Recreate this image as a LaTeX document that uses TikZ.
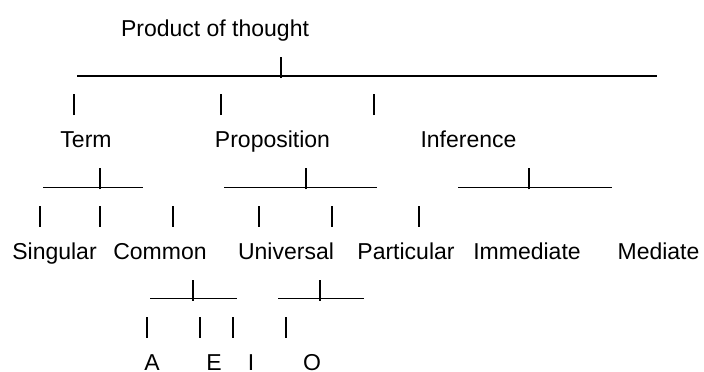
\documentclass[tikz,border=0pt]{standalone}
\usepackage{fontspec}
\setmainfont{Liberation Sans}
% baseline of text row #1 (rows are 37.1 apart)
\newcommand\rowy[1]{36.5+37.1*#1}
% a '|' standing on row #2 at x = #1
\newcommand\pipeat[2]{\draw[bar] (#1,{\rowy{#2}+4.5}) -- (#1,{\rowy{#2}-16.5});}
% a run of '_' from #1 to #2 on row #3
\newcommand\lineat[3]{\draw[bar] (#1,{\rowy{#3}+2.5}) -- (#2,{\rowy{#3}+2.5});}
\begin{document}
\begin{tikzpicture}[x=1pt,y=-1pt,
    word/.style={anchor=base,inner sep=0pt,font=\fontsize{23}{28}\selectfont},
    bar/.style={line width=1.5pt}]
  \useasboundingbox (0,0) rectangle (704,372);
  % top
  \node[word] (product) at (215,{\rowy{0}}) {Product of thought};
  \lineat{77}{657}{1}
  \pipeat{281}{1}
  \foreach \x in {74,221,374} {\pipeat{\x}{2}}
  % second level
  \node[word] (term) at (86,{\rowy{3}}) {Term};
  \node[word] (proposition) at (272.5,{\rowy{3}}) {Proposition};
  \node[word] (inference) at (468.5,{\rowy{3}}) {Inference};
  \lineat{43}{143}{4}
  \pipeat{100}{4}
  \lineat{224}{377}{4}
  \pipeat{306}{4}
  \lineat{458}{612}{4}
  \pipeat{529}{4}
  \foreach \x in {40,100,173,259,332,419} {\pipeat{\x}{5}}
  % third level
  \node[word] (singular) at (54.5,{\rowy{6}}) {Singular};
  \node[word] (common) at (160,{\rowy{6}}) {Common};
  \node[word] (universal) at (286,{\rowy{6}}) {Universal};
  \node[word] (particular) at (406,{\rowy{6}}) {Particular};
  \node[word] (immediate) at (527,{\rowy{6}}) {Immediate};
  \node[word] (mediate) at (658.5,{\rowy{6}}) {Mediate};
  \lineat{150}{237}{7}
  \pipeat{193}{7}
  \lineat{278}{364}{7}
  \pipeat{320}{7}
  \foreach \x in {147,200,233,286} {\pipeat{\x}{8}}
  % forms
  \node[word] (a) at (152,{\rowy{9}}) {A};
  \node[word] (e) at (214,{\rowy{9}}) {E};
  \node[word] (i) at (251,{\rowy{9}}) {I};
  \node[word] (o) at (312,{\rowy{9}}) {O};
\end{tikzpicture}
\end{document}
